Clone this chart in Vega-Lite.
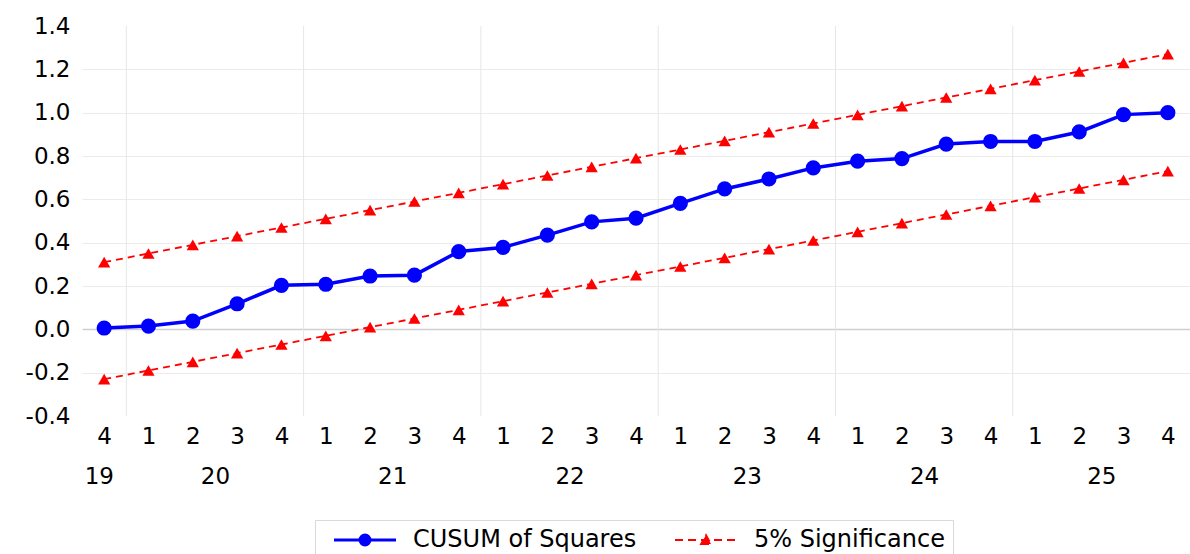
{
  "$schema": "https://vega.github.io/schema/vega-lite/v6.json",
  "width": 1108,
  "height": 390,
  "padding": {"left": 25, "top": 15, "right": 0, "bottom": 0},
  "background": "white",
  "config": {"view": {"stroke": null}, "font": "DejaVu Sans", "axis": {"labelFont": "DejaVu Sans"}},
  "data": {
    "values": [
      {"period": "2019Q4", "t": 0, "cusum": 0.006, "upper": 0.31, "lower": -0.23},
      {"period": "2020Q1", "t": 1, "cusum": 0.015, "upper": 0.35, "lower": -0.19},
      {"period": "2020Q2", "t": 2, "cusum": 0.038, "upper": 0.39, "lower": -0.15},
      {"period": "2020Q3", "t": 3, "cusum": 0.118, "upper": 0.43, "lower": -0.11},
      {"period": "2020Q4", "t": 4, "cusum": 0.203, "upper": 0.47, "lower": -0.07},
      {"period": "2021Q1", "t": 5, "cusum": 0.208, "upper": 0.51, "lower": -0.03},
      {"period": "2021Q2", "t": 6, "cusum": 0.246, "upper": 0.55, "lower": 0.01},
      {"period": "2021Q3", "t": 7, "cusum": 0.25, "upper": 0.59, "lower": 0.05},
      {"period": "2021Q4", "t": 8, "cusum": 0.359, "upper": 0.63, "lower": 0.09},
      {"period": "2022Q1", "t": 9, "cusum": 0.378, "upper": 0.67, "lower": 0.13},
      {"period": "2022Q2", "t": 10, "cusum": 0.435, "upper": 0.71, "lower": 0.17},
      {"period": "2022Q3", "t": 11, "cusum": 0.496, "upper": 0.75, "lower": 0.21},
      {"period": "2022Q4", "t": 12, "cusum": 0.513, "upper": 0.79, "lower": 0.25},
      {"period": "2023Q1", "t": 13, "cusum": 0.581, "upper": 0.83, "lower": 0.29},
      {"period": "2023Q2", "t": 14, "cusum": 0.648, "upper": 0.87, "lower": 0.33},
      {"period": "2023Q3", "t": 15, "cusum": 0.694, "upper": 0.91, "lower": 0.37},
      {"period": "2023Q4", "t": 16, "cusum": 0.745, "upper": 0.95, "lower": 0.41},
      {"period": "2024Q1", "t": 17, "cusum": 0.776, "upper": 0.99, "lower": 0.45},
      {"period": "2024Q2", "t": 18, "cusum": 0.788, "upper": 1.03, "lower": 0.49},
      {"period": "2024Q3", "t": 19, "cusum": 0.855, "upper": 1.07, "lower": 0.53},
      {"period": "2024Q4", "t": 20, "cusum": 0.867, "upper": 1.11, "lower": 0.57},
      {"period": "2025Q1", "t": 21, "cusum": 0.867, "upper": 1.15, "lower": 0.61},
      {"period": "2025Q2", "t": 22, "cusum": 0.911, "upper": 1.19, "lower": 0.65},
      {"period": "2025Q3", "t": 23, "cusum": 0.991, "upper": 1.23, "lower": 0.69},
      {"period": "2025Q4", "t": 24, "cusum": 1.0, "upper": 1.27, "lower": 0.73}
    ]
  },
  "encoding": {
    "x": {
      "field": "t",
      "type": "quantitative",
      "scale": {"domain": [-0.5, 24.5], "nice": false, "zero": false},
      "axis": {
        "title": null,
        "values": [-0.12, 0, 1, 2, 2.5, 3, 4, 5, 6, 6.5, 7, 8, 9, 10, 10.5, 11, 12, 13, 14, 14.5, 15, 16, 17, 18, 18.5, 19, 20, 21, 22, 22.5, 23, 24],
        "labelExpr": "datum.value === round(datum.value) ? '' + ((datum.value + 3) % 4 + 1) : ['', '' + (floor((datum.value + 3) / 4) + 19)]",
        "labelFont": "DejaVu Sans",
        "labelFontSize": 23,
        "labelColor": "black",
        "labelPadding": 9,
        "labelLineHeight": 40,
        "labelOverlap": false,
        "labelFlush": false,
        "labelBound": false,
        "ticks": false,
        "domain": false,
        "grid": false
      }
    }
  },
  "layer": [
    {
      "data": {"values": [{"t": 0.5}, {"t": 4.5}, {"t": 8.5}, {"t": 12.5}, {"t": 16.5}, {"t": 20.5}]},
      "mark": {"type": "rule", "color": "#e6e6e6", "strokeWidth": 1}
    },
    {
      "transform": [{"fold": ["upper", "lower"], "as": ["band", "v"]}],
      "mark": {"type": "line", "strokeWidth": 1.8, "strokeDash": [7, 5], "point": {"shape": "triangle-up", "size": 150, "filled": true}},
      "encoding": {
        "y": {
          "field": "v",
          "type": "quantitative",
          "scale": {"domain": [-0.4, 1.4], "nice": false, "zero": false},
          "axis": {
            "title": null,
            "values": [-0.4, -0.2, 0, 0.2, 0.4, 0.6, 0.8, 1.0, 1.2, 1.4],
            "labelExpr": "replace(format(datum.value, '.1f'), '\u2212', '-')",
            "labelFont": "DejaVu Sans",
            "labelFontSize": 23,
            "labelColor": "black",
            "labelPadding": 12,
            "ticks": false,
            "domain": false,
            "gridColor": {"expr": "datum.value === 0 ? '#d0d0d0' : '#ebebeb'"},
            "gridWidth": {"expr": "datum.value === 0 ? 1.5 : 1"},
            "gridOpacity": {"expr": "datum.value > 1.3 || datum.value < -0.3 ? 0 : 1"}
          }
        },
        "detail": {"field": "band"},
        "color": {"datum": "5% Significance"}
      }
    },
    {
      "mark": {"type": "line", "strokeWidth": 3.5, "point": {"shape": "circle", "size": 230, "filled": true, "opacity": 1}},
      "encoding": {
        "y": {
          "field": "cusum",
          "type": "quantitative",
          "scale": {"domain": [-0.4, 1.4], "nice": false, "zero": false},
          "axis": {
            "title": null,
            "values": [-0.4, -0.2, 0, 0.2, 0.4, 0.6, 0.8, 1.0, 1.2, 1.4],
            "labelExpr": "replace(format(datum.value, '.1f'), '\u2212', '-')",
            "labelFont": "DejaVu Sans",
            "labelFontSize": 23,
            "labelColor": "black",
            "labelPadding": 12,
            "ticks": false,
            "domain": false,
            "gridColor": {"expr": "datum.value === 0 ? '#d0d0d0' : '#ebebeb'"},
            "gridWidth": {"expr": "datum.value === 0 ? 1.5 : 1"},
            "gridOpacity": {"expr": "datum.value > 1.3 || datum.value < -0.3 ? 0 : 1"}
          }
        },
        "color": {
          "datum": "CUSUM of Squares",
          "scale": {"domain": ["CUSUM of Squares", "5% Significance"], "range": ["#0000ff", "#ff0000"]},
          "legend": {
            "title": null,
            "orient": "none",
            "legendX": 233,
            "legendY": 494,
            "direction": "horizontal",
            "padding": 8,
            "strokeColor": "#d9d9d9",
            "labelFont": "DejaVu Sans",
            "labelFontSize": 24,
            "labelColor": "black",
            "labelLimit": 400,
            "symbolSize": 400,
            "labelOffset": 66,
            "columnPadding": 27,
            "encode": {
              "symbols": {
                "update": {
                  "shape": {"signal": "datum.value === 'CUSUM of Squares' ? 'M-0.1,0L6.1,0M2.5,0A0.5,0.5,0,1,1,3.5,0A0.5,0.5,0,1,1,2.5,0Z' : 'M-0.1,0L6.1,0M2.5,0.4L3.5,0.4L3,-0.5Z'"},
                  "fill": {"signal": "scale('color', datum.value)"},
                  "stroke": {"signal": "scale('color', datum.value)"},
                  "strokeWidth": {"signal": "datum.value === 'CUSUM of Squares' ? 3 : 1.8"},
                  "strokeDash": {"signal": "datum.value === 'CUSUM of Squares' ? [] : [8, 5]"},
                  "opacity": {"value": 1},
                  "fillOpacity": {"value": 1},
                  "strokeOpacity": {"value": 1}
                }
              }
            }
          }
        }
      }
    }
  ]
}
